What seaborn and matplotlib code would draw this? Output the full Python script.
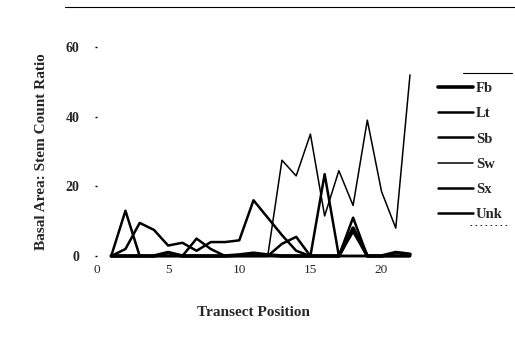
import numpy as np
import pandas as pd
import matplotlib
matplotlib.use("Agg")
import matplotlib.pyplot as plt
import seaborn as sns
from matplotlib.lines import Line2D

sns.set_theme(style="white")
plt.rcParams['font.family'] = ['Liberation Serif', 'DejaVu Serif']

positions = list(range(1, 23))
species = ["Fb", "Lt", "Sb", "Sw", "Sx", "Unk"]
fb  = [0, 0, 0, 0, 1, 0, 0, 0, 0, 0.3, 0.8, 0.3, 0, 0, 0, 0, 0, 8, 0, 0, 1, 0.5]
lt  = [0, 2, 9.5, 7.5, 3, 3.8, 1.5, 4, 4, 4.5, 16, 11, 6, 1.5, 0, 0, 0, 0, 0, 0, 0, 0]
sb  = [0, 13, 0, 0, 0, 0, 0, 0, 0, 0, 0, 0, 0, 0, 0, 0, 0, 11, 0, 0, 0, 0]
sw  = [0, 0, 0, 0, 0, 0, 0, 0, 0, 0, 0, 0, 27.5, 23, 35, 11.5, 24.5, 14.5, 39, 18.5, 8, 52]
sx  = [0, 0, 0, 0, 0, 0, 5, 2, 0, 0, 0, 0, 0, 0, 0, 23.5, 0, 7, 0, 0, 0, 0]
unk = [0, 0, 0, 0, 0, 0, 0, 0, 0, 0, 0, 0, 3.5, 5.5, 0, 0, 0, 0, 0, 0, 0, 0]
values = {"Fb": fb, "Lt": lt, "Sb": sb, "Sw": sw, "Sx": sx, "Unk": unk}

df = pd.DataFrame({
    "Transect Position": positions * len(species),
    "Ratio": sum([values[s] for s in species], []),
    "Species": sum([[s] * len(positions) for s in species], []),
})

widths = {"Fb": 2.6, "Lt": 1.8, "Sb": 1.8, "Sw": 1.1, "Sx": 1.8, "Unk": 1.8}

fig = plt.figure(figsize=(5.15, 3.39), dpi=100)
ax = fig.add_axes([97/515, (339-256)/339, (410-97)/515, (256-47)/339])

for s in species:
    sub = df[df["Species"] == s]
    sns.lineplot(data=sub, x="Transect Position", y="Ratio", ax=ax, color="black",
                 linewidth=widths[s], label=s, clip_on=False)

ax.set_xlim(0, 22)
ax.set_ylim(0, 60)
ax.set_xticks([0, 5, 10, 15, 20])
ax.set_yticks([0, 20, 40, 60])
for sp in ax.spines.values():
    sp.set_visible(False)
ax.tick_params(axis="x", length=0, pad=6, labelsize=9.5)
ax.tick_params(axis="y", length=1.5, width=1, color="black", pad=11, labelsize=10, left=True)
for lab in ax.get_yticklabels():
    lab.set_fontweight("bold")
ax.set_xlabel("Transect Position", fontsize=11, fontweight="bold", labelpad=21)
ax.set_ylabel("Basal Area: Stem Count Ratio", fontsize=11, fontweight="bold", labelpad=13)
ax.grid(False)

ax.get_legend().remove()
handles = [Line2D([0], [0], color="black", linewidth=widths[s]) for s in species]
leg = fig.legend(handles, species, loc="upper left",
                 bbox_to_anchor=(438/515, 1 - 82/339), frameon=False,
                 handlelength=2.4, handletextpad=0.2, labelspacing=0.82,
                 prop={"family": "Liberation Serif", "weight": "bold", "size": 10.5},
                 borderaxespad=0, borderpad=0)

# scan frame fragments
fig.add_artist(Line2D([65/515, 1.0], [1 - 7/339, 1 - 7/339], color="black", linewidth=0.8))
fig.add_artist(Line2D([463/515, 512/515], [1 - 73/339, 1 - 73/339], color="black", linewidth=0.8))
fig.add_artist(Line2D([470/515, 510/515], [1 - 225/339, 1 - 225/339], color="black",
                      linewidth=0.6, linestyle=(0, (2, 4))))

fig.savefig("out.png", dpi=100, facecolor="white")
